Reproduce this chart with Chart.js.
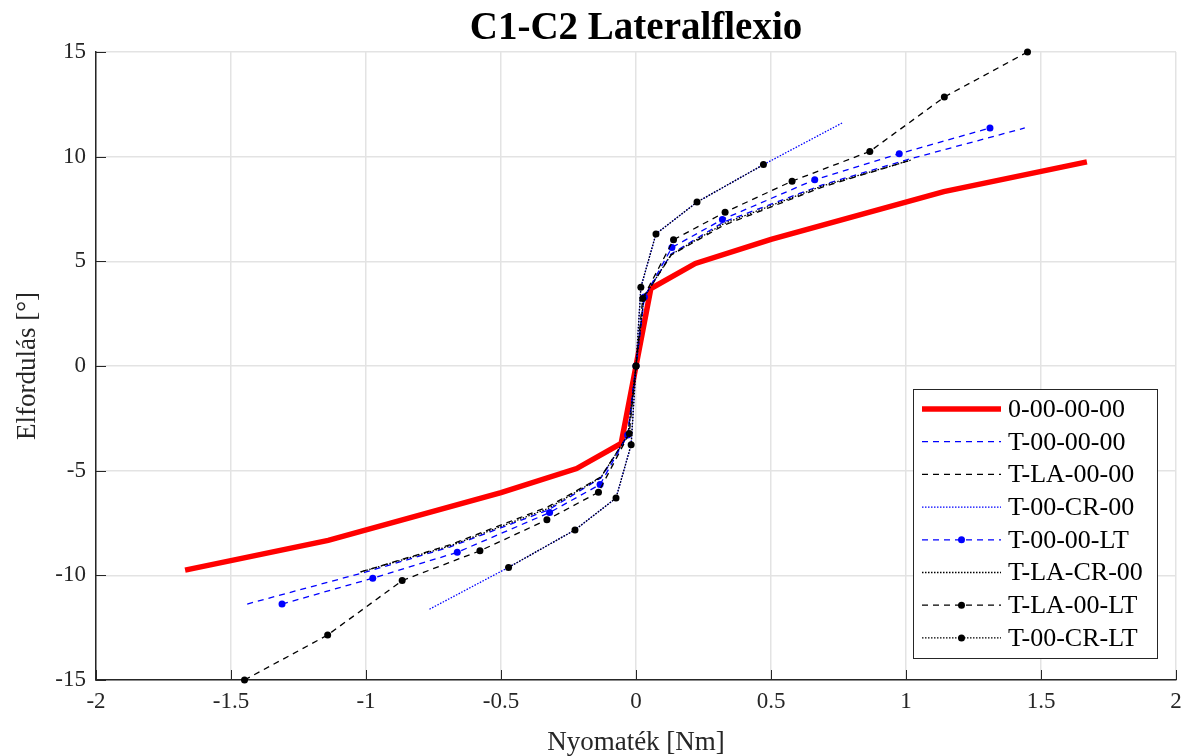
<!DOCTYPE html>
<html>
<head>
<meta charset="utf-8">
<title>C1-C2 Lateralflexio</title>
<script src="https://cdn.jsdelivr.net/npm/chart.js@4.4.1/dist/chart.umd.min.js"></script>
<style>
  body { margin: 0; background: #fff; }
  #wrap { width: 1193px; height: 756px; }
</style>
</head>
<body>
<div id="wrap"><canvas id="grafico" width="1193" height="756"></canvas></div>
<script>
// nyomaték [Nm] / elfordulás [°] párok mérésenként
const nevek = ['0-00-00-00', 'T-00-00-00', 'T-LA-00-00', 'T-00-CR-00', 'T-00-00-LT', 'T-LA-CR-00', 'T-LA-00-LT', 'T-00-CR-LT'];

const x_0_00_00_00 = [-1.67, -1.14, -0.5, -0.22, -0.055, 0, 0.055, 0.22, 0.5, 1.14, 1.67];
const y_0_00_00_00 = [-9.75, -8.33, -6.05, -4.9, -3.7, 0, 3.7, 4.9, 6.05, 8.33, 9.75];

const x_T_00_00_00 = [-1.44, -1.0, -0.69, -0.325, -0.13, -0.03, 0, 0.03, 0.13, 0.325, 0.69, 1.0, 1.44];
const y_T_00_00_00 = [-11.37, -9.84, -8.65, -6.88, -5.35, -3.3, 0, 3.3, 5.35, 6.88, 8.65, 9.84, 11.37];

const x_T_LA_00_00 = [-1.02, -0.69, -0.325, -0.13, -0.03, 0, 0.03, 0.13, 0.325, 0.69, 1.02];
const y_T_LA_00_00 = [-9.84, -8.55, -6.72, -5.3, -3.3, 0, 3.3, 5.3, 6.72, 8.55, 9.84];

const x_T_00_CR_00 = [-0.765, -0.472, -0.226, -0.074, -0.018, 0, 0.018, 0.074, 0.226, 0.472, 0.765];
const y_T_00_CR_00 = [-11.62, -9.62, -7.83, -6.31, -3.76, 0, 3.76, 6.31, 7.83, 9.62, 11.62];

const x_T_00_00_LT = [-1.311, -0.975, -0.662, -0.32, -0.133, -0.031, 0, 0.031, 0.133, 0.32, 0.662, 0.975, 1.311];
const y_T_00_00_LT = [-11.37, -10.14, -8.9, -7.0, -5.66, -3.3, 0, 3.3, 5.66, 7.0, 8.9, 10.14, 11.37];

const x_T_LA_CR_00 = [-1.02, -0.69, -0.325, -0.13, -0.03, 0, 0.03, 0.13, 0.325, 0.69, 1.02];
const y_T_LA_CR_00 = [-9.84, -8.6, -6.8, -5.32, -3.3, 0, 3.3, 5.32, 6.8, 8.6, 9.84];

const x_T_LA_00_LT = [-1.45, -1.142, -0.866, -0.578, -0.33, -0.139, -0.025, 0, 0.025, 0.139, 0.33, 0.578, 0.866, 1.142, 1.45];
const y_T_LA_00_LT = [-15, -12.85, -10.25, -8.83, -7.35, -6.03, -3.23, 0, 3.23, 6.03, 7.35, 8.83, 10.25, 12.85, 15];

const x_T_00_CR_LT = [-0.472, -0.226, -0.074, -0.018, 0, 0.018, 0.074, 0.226, 0.472];
const y_T_00_CR_LT = [-9.62, -7.83, -6.31, -3.76, 0, 3.76, 6.31, 7.83, 9.62];

const xTicks = [-2, -1.5, -1, -0.5, 0, 0.5, 1, 1.5, 2];
const yTicks = [-15, -10, -5, 0, 5, 10, 15];

const betu = 'Liberation Serif, Times New Roman, serif';
const tengelySzin = '#262626';

function pontok(xs, ys) {
  let p = [];
  for (let i = 0; i < xs.length; i++) {
    p.push({ x: xs[i], y: ys[i] });
  }
  return p;
}

function sorozat(nev, xs, ys, szin, vastag, szaggatas, pont) {
  return {
    label: nev,
    data: pontok(xs, ys),
    borderColor: szin,
    backgroundColor: szin,
    borderWidth: vastag,
    borderDash: szaggatas,
    pointRadius: pont ? 3.5 : 0,
    pointBorderWidth: 0,
    pointBackgroundColor: szin,
    showLine: true,
    tension: 0,
    clip: false
  };
}

const sorozatok = [
  sorozat(nevek[0], x_0_00_00_00, y_0_00_00_00, '#ff0000', 5.5, [], false),
  sorozat(nevek[1], x_T_00_00_00, y_T_00_00_00, '#0000ff', 1.3, [6, 5], false),
  sorozat(nevek[2], x_T_LA_00_00, y_T_LA_00_00, '#000000', 1.3, [6, 5], false),
  sorozat(nevek[3], x_T_00_CR_00, y_T_00_CR_00, '#0000ff', 1.3, [1.5, 1.5], false),
  sorozat(nevek[4], x_T_00_00_LT, y_T_00_00_LT, '#0000ff', 1.3, [6, 5], true),
  sorozat(nevek[5], x_T_LA_CR_00, y_T_LA_CR_00, '#000000', 1.3, [1.5, 1.5], false),
  sorozat(nevek[6], x_T_LA_00_LT, y_T_LA_00_LT, '#000000', 1.3, [6, 5], true),
  sorozat(nevek[7], x_T_00_CR_LT, y_T_00_CR_LT, '#000000', 1.3, [1.5, 1.5], true)
];
// a később felvett görbék kerülnek felülre
sorozatok.forEach(function(s, i) { s.order = sorozatok.length - i; });

// cím, befelé álló osztásjelek és a jelmagyarázat doboza
const rajzolo = {
  id: 'rajzolo',
  afterDraw: function(chart) {
    const ctx = chart.ctx;
    const a = chart.chartArea;
    const sx = chart.scales.x;
    const sy = chart.scales.y;

    ctx.save();
    ctx.fillStyle = '#000';
    ctx.font = 'bold 39px ' + betu;
    ctx.textAlign = 'center';
    ctx.textBaseline = 'middle';
    ctx.fillText('C1-C2 Lateralflexio', (a.left + a.right) / 2, 29);

    ctx.strokeStyle = tengelySzin;
    ctx.lineWidth = 1;
    ctx.beginPath();
    xTicks.forEach(function(v) {
      const px = Math.round(sx.getPixelForValue(v)) + 0.5;
      ctx.moveTo(px, a.bottom);
      ctx.lineTo(px, a.bottom - 10);
    });
    yTicks.forEach(function(v) {
      const py = Math.round(sy.getPixelForValue(v)) + 0.5;
      ctx.moveTo(a.left, py);
      ctx.lineTo(a.left + 10, py);
    });
    ctx.stroke();

    const bx = a.right - 263, by = a.bottom - 291, bw = 244, bh = 269;
    ctx.fillStyle = '#fff';
    ctx.fillRect(bx, by, bw, bh);
    ctx.strokeStyle = tengelySzin;
    ctx.lineWidth = 1;
    ctx.strokeRect(bx + 0.5, by + 0.5, bw, bh);

    ctx.font = '26px ' + betu;
    ctx.textAlign = 'left';
    ctx.textBaseline = 'middle';
    chart.data.datasets.forEach(function(d, i) {
      const ly = by + 20 + i * 32.7;
      ctx.strokeStyle = d.borderColor;
      ctx.lineWidth = d.borderWidth;
      ctx.setLineDash(d.borderDash);
      ctx.beginPath();
      ctx.moveTo(bx + 9, ly);
      ctx.lineTo(bx + 88, ly);
      ctx.stroke();
      ctx.setLineDash([]);
      if (d.pointRadius > 0) {
        ctx.fillStyle = d.borderColor;
        ctx.beginPath();
        ctx.arc(bx + 48.5, ly, d.pointRadius, 0, Math.PI * 2);
        ctx.fill();
      }
      ctx.fillStyle = '#000';
      ctx.fillText(d.label, bx + 95, ly + 1);
    });
    ctx.restore();
  }
};

const ctx = document.getElementById('grafico');

new Chart(ctx, {
  type: 'scatter',
  data: { datasets: sorozatok },
  options: {
    responsive: false,
    animation: false,
    devicePixelRatio: 1,
    layout: { padding: { top: 52, right: 17, left: 0, bottom: 0 } },
    plugins: {
      legend: { display: false },
      title: { display: false },
      tooltip: { enabled: false }
    },
    scales: {
      x: {
        type: 'linear',
        min: -2,
        max: 2,
        afterFit: function(s) { s.height = 76; },
        afterBuildTicks: function(s) { s.ticks = xTicks.map(function(v) { return { value: v }; }); },
        ticks: {
          color: tengelySzin,
          font: { family: betu, size: 23 },
          padding: 8,
          maxRotation: 0,
          autoSkip: false,
          callback: function(v) { return String(v); }
        },
        grid: { color: '#e3e3e3', lineWidth: 1.5, drawTicks: false },
        border: { color: tengelySzin, width: 1.5 },
        title: {
          display: true,
          text: 'Nyomaték [Nm]',
          color: tengelySzin,
          font: { family: betu, size: 27, lineHeight: 1 },
          padding: { top: 0, bottom: 0 }
        }
      },
      y: {
        type: 'linear',
        min: -15,
        max: 15,
        afterFit: function(s) { s.width = 96; },
        afterBuildTicks: function(s) { s.ticks = yTicks.map(function(v) { return { value: v }; }); },
        ticks: {
          color: tengelySzin,
          font: { family: betu, size: 23 },
          padding: 10,
          autoSkip: false,
          callback: function(v) { return String(v); }
        },
        grid: { color: '#e3e3e3', lineWidth: 1.5, drawTicks: false },
        border: { color: tengelySzin, width: 1.5 },
        title: {
          display: true,
          text: 'Elfordulás [°]',
          color: tengelySzin,
          font: { family: betu, size: 27, lineHeight: 1 },
          padding: { top: 14, bottom: 0 }
        }
      }
    }
  },
  plugins: [rajzolo]
});
</script>
</body>
</html>
